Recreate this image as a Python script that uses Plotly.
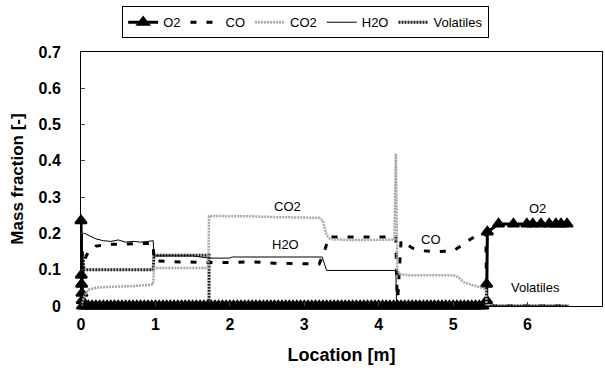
import plotly.graph_objects as go

# ---------------- data ----------------
o2_x = [0.0, 0.004, 0.008, 0.012, 0.016, 0.02,
        0.05, 0.1, 0.15, 0.2, 0.25, 0.3, 0.35, 0.4, 0.45, 0.5, 0.55, 0.6, 0.65, 0.7, 0.75,
        0.8, 0.85, 0.9, 0.95, 1.0, 1.05, 1.1, 1.15, 1.2, 1.25, 1.3, 1.35, 1.4, 1.45, 1.5,
        1.55, 1.6, 1.65, 1.7, 1.75, 1.8, 1.85, 1.9, 1.95, 2.0, 2.05, 2.1, 2.15, 2.2, 2.25,
        2.3, 2.35, 2.4, 2.45, 2.5, 2.55, 2.6, 2.65, 2.7, 2.75, 2.8, 2.85, 2.9, 2.95, 3.0,
        3.05, 3.1, 3.15, 3.2, 3.25, 3.3, 3.35, 3.4, 3.45, 3.5, 3.55, 3.6, 3.65, 3.7, 3.75,
        3.8, 3.85, 3.9, 3.95, 4.0, 4.05, 4.1, 4.15, 4.2, 4.25, 4.3, 4.35, 4.4, 4.45, 4.5,
        4.55, 4.6, 4.65, 4.7, 4.75, 4.8, 4.85, 4.9, 4.95, 5.0, 5.05, 5.1, 5.15, 5.2, 5.25,
        5.3, 5.35, 5.4, 5.45, 5.45, 5.46,
        5.61, 5.81, 5.99, 6.07, 6.18, 6.29, 6.38, 6.45, 6.53]
o2_y = [0.235, 0.085, 0.06, 0.035, 0.015, 0.0,
        0, 0, 0, 0, 0, 0, 0, 0, 0, 0, 0, 0, 0, 0, 0,
        0, 0, 0, 0, 0, 0, 0, 0, 0, 0, 0, 0, 0, 0, 0,
        0, 0, 0, 0, 0, 0, 0, 0, 0, 0, 0, 0, 0, 0, 0,
        0, 0, 0, 0, 0, 0, 0, 0, 0, 0, 0, 0, 0, 0, 0,
        0, 0, 0, 0, 0, 0, 0, 0, 0, 0, 0, 0, 0, 0, 0,
        0, 0, 0, 0, 0, 0, 0, 0, 0, 0, 0, 0, 0, 0, 0,
        0, 0, 0, 0, 0, 0, 0, 0, 0, 0, 0, 0, 0, 0, 0,
        0, 0, 0, 0.015, 0.06, 0.204,
        0.226, 0.226, 0.226, 0.226, 0.226, 0.226, 0.226, 0.226, 0.226]

co_x = [0.0, 0.03, 0.1, 0.2, 0.4, 0.6, 0.8, 0.97, 0.98, 1.2, 1.5, 1.72, 2.0, 2.3,
        2.6, 2.9, 3.2, 3.27, 3.33, 3.6, 3.9, 4.23, 4.25, 4.3, 4.45, 4.6, 4.8,
        5.0, 5.1, 5.2, 5.35, 5.44, 5.45, 6.55]
co_y = [0.0, 0.12, 0.15, 0.165, 0.17, 0.172, 0.172, 0.172, 0.125, 0.122, 0.12, 0.12, 0.12, 0.122,
        0.118, 0.116, 0.116, 0.15, 0.19, 0.19, 0.19, 0.19, 0.0, 0.18, 0.16, 0.152, 0.15,
        0.152, 0.165, 0.18, 0.198, 0.2, 0.0, 0.0]

co2_x = [0.0, 0.05, 0.1, 0.2, 0.3, 0.5, 0.7, 0.9, 0.97, 0.98, 1.2, 1.5, 1.71, 1.72,
         2.0, 2.3, 2.6, 2.9, 3.2, 3.25, 3.3, 3.35, 3.6, 3.9, 4.21, 4.23, 4.25, 4.28,
         4.4, 4.6, 4.8, 5.0, 5.06, 5.15, 5.25, 5.35, 5.44, 5.45, 6.55]
co2_y = [0.0, 0.03, 0.045, 0.05, 0.052, 0.053, 0.055, 0.058, 0.06, 0.105, 0.105, 0.105, 0.105, 0.248,
         0.248, 0.247, 0.245, 0.244, 0.243, 0.235, 0.195, 0.184, 0.182, 0.182, 0.183, 0.42, 0.1, 0.088,
         0.085, 0.085, 0.085, 0.085, 0.08, 0.065, 0.058, 0.052, 0.047, 0.0, 0.0]

h2o_x = [0.0, 0.02, 0.05, 0.1, 0.15, 0.2, 0.3, 0.4, 0.5, 0.6, 0.7, 0.8, 0.9, 0.97, 0.98,
         1.2, 1.5, 1.72, 2.0, 2.03, 2.4, 2.7, 3.0, 3.24, 3.3, 3.6, 3.9, 4.23, 4.24, 6.55]
h2o_y = [0.0, 0.2, 0.2, 0.195, 0.19, 0.185, 0.18, 0.178, 0.182, 0.176, 0.178, 0.176, 0.178, 0.18, 0.138,
         0.138, 0.138, 0.132, 0.132, 0.135, 0.135, 0.135, 0.135, 0.135, 0.098, 0.098, 0.098, 0.098, 0.0, 0.0]

vol_x = [0.0, 0.02, 0.04, 0.97, 0.98, 1.72, 1.72, 6.55]
vol_y = [0.0, 0.15, 0.1, 0.1, 0.14, 0.14, 0.0, 0.0]

labels = ["CO2", "H2O", "CO", "O2", "Volatiles"]
label_x = [2.77, 2.75, 4.7, 6.14, 6.1]
label_y = [0.275, 0.17, 0.182, 0.27, 0.05]

x_ticks = [0, 1, 2, 3, 4, 5, 6, 7]
y_ticks = [0, 0.1, 0.2, 0.3, 0.4, 0.5, 0.6, 0.7]

# ---------------- figure ----------------
FONT = "Liberation Sans, Arial"
fig = go.Figure()
fig.add_trace(go.Scatter(x=vol_x, y=vol_y, name="Volatiles", mode="lines",
                         line=dict(color="#222222", width=3, dash="2px,1px"),
                         cliponaxis=False, legendrank=5))
fig.add_trace(go.Scatter(x=o2_x, y=o2_y, name="O2", mode="lines+markers",
                         line=dict(color="black", width=3),
                         marker=dict(symbol="triangle-up", size=10, color="black",
                                     line=dict(color="black", width=2)),
                         cliponaxis=False, legendrank=1))
fig.add_trace(go.Scatter(x=co_x, y=co_y, name="CO", mode="lines",
                         line=dict(color="black", width=3, dash="6px,10px"),
                         cliponaxis=False, legendrank=2))
fig.add_trace(go.Scatter(x=co2_x, y=co2_y, name="CO2", mode="lines",
                         line=dict(color="#a8a8a8", width=2.5, dash="2px,1px"),
                         cliponaxis=False, legendrank=3))
fig.add_trace(go.Scatter(x=h2o_x, y=h2o_y, name="H2O", mode="lines",
                         line=dict(color="black", width=1),
                         cliponaxis=False, legendrank=4))

for t, xx, yy in zip(labels, label_x, label_y):
    fig.add_annotation(x=xx, y=yy, text=t, showarrow=False,
                       font=dict(family=FONT, size=13, color="black"))

fig.update_layout(
    width=605, height=373,
    margin=dict(l=81, r=3, t=52, b=67),
    paper_bgcolor="white", plot_bgcolor="white",
    font=dict(family=FONT, color="black"),
    showlegend=True,
    legend=dict(orientation="h", x=0.079, y=1.18, xanchor="left", yanchor="top",
                bordercolor="black", borderwidth=1, bgcolor="white",
                font=dict(size=13), itemwidth=30, tracegroupgap=0,
                traceorder="normal"),
    xaxis=dict(range=[0, 7], tickvals=x_ticks, ticks="inside", ticklen=4,
               showline=True, linecolor="black", linewidth=1, mirror=True,
               showgrid=False, zeroline=False, ticklabelstandoff=4,
               tickfont=dict(size=16, family=FONT, weight="bold"),
               title=dict(text="<b>Location [m]</b>", font=dict(size=18), standoff=16)),
    yaxis=dict(range=[0, 0.7], tickvals=y_ticks, ticks="inside", ticklen=4,
               showline=True, linecolor="black", linewidth=1, mirror=True,
               showgrid=False, zeroline=False, ticklabelstandoff=16,
               tickfont=dict(size=16, family=FONT, weight="bold"),
               title=dict(text="<b>Mass fraction [-]</b>", font=dict(size=17), standoff=10)),
)

fig.write_html("out.html")
